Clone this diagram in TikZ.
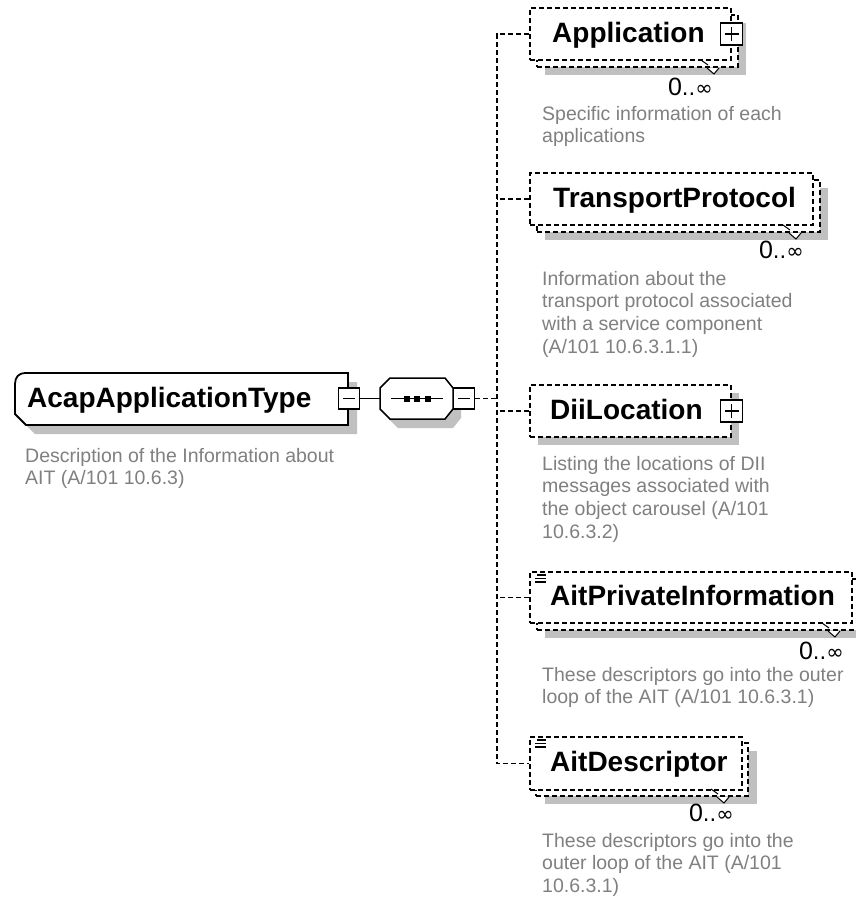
\documentclass[tikz,border=0pt]{standalone}
\usepackage{fontspec}
\setmainfont{Liberation Sans}
\newfontfamily\dejavu{DejaVu Sans}
\definecolor{shgray}{RGB}{192,192,192}
\definecolor{descgray}{RGB}{128,128,128}
\newcommand\multmark[1]{%
  \begin{scope}[shift={(#1)}]
    \draw[line width=1pt] (-37,-7) -- (-30,-2);
    \fill[white] (-31,1) -- (-19,1) -- (-24,7) -- cycle;
    \draw[line width=1pt] (-31,1) -- (-24,7) -- (-19,1);
  \end{scope}}
\newcommand\multtext{{\fontsize{25}{25}\selectfont 0}{\dejavu\fontsize{21}{21}\selectfont ..∞}}
\begin{document}
\begin{tikzpicture}[x=1pt,y=-1pt,
  dsh/.style={dash pattern=on 5pt off 3pt, line width=1.4pt},
  shadowbox/.style={fill=shgray, draw=none, inner sep=0pt},
  elbox/.style={draw, dsh, fill=white, inner sep=0pt},
  lbl/.style={anchor=base west, inner sep=0pt, font=\fontsize{28}{28}\selectfont\bfseries},
  desc/.style={anchor=north west, inner sep=0pt, align=left, text=descgray, font=\fontsize{19.5}{22.7}\selectfont},
  mult/.style={anchor=base east, inner sep=0pt},
  plusbox/.style={draw, solid, line width=1.5pt, fill=white, minimum size=22pt, inner sep=0pt,
    path picture={\draw[line width=1.5pt] ([xshift=-7pt]path picture bounding box.center) -- ([xshift=7pt]path picture bounding box.center)
      ([yshift=-7pt]path picture bounding box.center) -- ([yshift=7pt]path picture bounding box.center);}},
  minusbox/.style={draw, solid, line width=1.5pt, fill=white, minimum size=21pt, inner sep=0pt,
    path picture={\draw[line width=1.5pt] ([xshift=-6pt]path picture bounding box.center) -- ([xshift=6pt]path picture bounding box.center);}},
  iconline/.style={line width=1.2pt}
]
\useasboundingbox (0,0) rectangle (856,900);
\clip (0,0) rectangle (856,900);
\fill[white] (0,0) rectangle (856,900);

% ---------- root element ----------
\fill[shgray] (34,382) -- (357,382) -- (357,434) -- (35,434) -- (24,423) -- (24,393) .. controls (24,386) and (28,382) .. (34,382) -- cycle;
\draw[fill=white, line width=1.8pt] (25,373) -- (348,373) -- (348,425) -- (26,425) -- (15,414) -- (15,384) .. controls (15,377) and (19,373) .. (25,373) -- cycle;
\node[lbl] (root) at (27,407) {AcapApplicationType};
\node[desc] (rootD) at (25,446.1) {\strut Description of the Information about\\AIT (A/101 10.6.3)};
\node[minusbox] (m1) at (349,398.5) {};

% ---------- sequence compositor ----------
\fill[shgray] (398,387) -- (453,387) -- (461,397) -- (461,418) -- (453,428) -- (398,428) -- (388,418) -- (388,397) -- cycle;
\draw[fill=white, line width=1.5pt] (390,378) -- (445,378) -- (453,388) -- (453,409) -- (445,419) -- (390,419) -- (380,409) -- (380,388) -- cycle;
\coordinate (seqL) at (380,398.5);
\draw[line width=1.5pt] (391,398.5) -- (443,398.5);
\fill (404,395.5) rectangle (410,401.5);
\fill (414,395.5) rectangle (420,401.5);
\fill (425,395.5) rectangle (431,401.5);
\node[minusbox] (m2) at (464,398.5) {};
\draw[line width=1.5pt] (m1.east) -- (seqL);

% ---------- Application ----------
\node[shadowbox, minimum width=201pt, minimum height=52pt] (appS) at (645.5,49) {};
\node[elbox, minimum width=201pt, minimum height=52pt] (appB) at (637.5,41) {};
\node[elbox, minimum width=201pt, minimum height=52pt] (app) at (630.5,34) {};
\node[lbl] (appL) at (552,42) {Application};
\node[plusbox] (appP) at (app.east) {};
\multmark{738,67}
\node[mult] (appM) at (713,95) {\multtext};
\node[desc] (appD) at (542,104.1) {\strut Specific information of each\\applications};

% ---------- TransportProtocol ----------
\node[shadowbox, minimum width=283pt, minimum height=52pt] (tpS) at (686.5,214) {};
\node[elbox, minimum width=283pt, minimum height=52pt] (tpB) at (678.5,206) {};
\node[elbox, minimum width=283pt, minimum height=52pt] (tp) at (671.5,199) {};
\node[lbl] (tpL) at (553,207) {TransportProtocol};
\multmark{820,232}
\node[mult] (tpM) at (804,258) {\multtext};
\node[desc] (tpD) at (542,269.1) {\strut Information about the\\transport protocol associated\\with a service component\\(A/101 10.6.3.1.1)};

% ---------- DiiLocation ----------
\node[shadowbox, minimum width=201pt, minimum height=52pt] (diiS) at (638.5,419) {};
\node[elbox, minimum width=201pt, minimum height=52pt] (dii) at (630.5,411) {};
\node[lbl] (diiL) at (550,419) {DiiLocation};
\node[plusbox] (diiP) at (dii.east) {};
\node[desc] (diiD) at (542,454.1) {\strut Listing the locations of DII\\messages associated with\\the object carousel (A/101\\10.6.3.2)};

% ---------- AitPrivateInformation ----------
\node[shadowbox, minimum width=322pt, minimum height=51pt] (apiS) at (706,612.5) {};
\node[elbox, minimum width=322pt, minimum height=51pt] (apiB) at (698,604.5) {};
\node[elbox, minimum width=322pt, minimum height=51pt] (api) at (691,597.5) {};
\draw[iconline] (537,575) -- (546,575) (535,578.5) -- (546,578.5) (535,582) -- (546,582);
\node[lbl] (apiL) at (550,605) {AitPrivateInformation};
\multmark{859,630}
\node[mult] (apiM) at (844,659) {\multtext};
\node[desc] (apiD) at (542,665.1) {\strut These descriptors go into the outer\\loop of the AIT (A/101 10.6.3.1)};

% ---------- AitDescriptor ----------
\node[shadowbox, minimum width=212pt, minimum height=53pt] (adS) at (651,777.5) {};
\node[elbox, minimum width=212pt, minimum height=53pt] (adB) at (642,769.5) {};
\node[elbox, minimum width=212pt, minimum height=53pt] (ad) at (636,763.5) {};
\draw[iconline] (537,740) -- (546,740) (535,743.5) -- (546,743.5) (535,747) -- (546,747);
\node[lbl] (adL) at (550,771) {AitDescriptor};
\multmark{748,796}
\node[mult] (adM) at (734,821) {\multtext};
\node[desc] (adD) at (542,831.1) {\strut These descriptors go into the\\outer loop of the AIT (A/101\\10.6.3.1)};

% ---------- connectors ----------
\coordinate (trk) at (497,0);
\draw[dsh] (app.west) -- (app.west -| trk) -- (ad.west -| trk) -- (ad.west);
\draw[dsh] (tp.west) -- (tp.west -| trk);
\draw[dsh] (dii.west) -- (dii.west -| trk);
\draw[dsh] (api.west) -- (api.west -| trk);
\draw[dsh] (m2.east) -- (m2.east -| trk);
\end{tikzpicture}
\end{document}
